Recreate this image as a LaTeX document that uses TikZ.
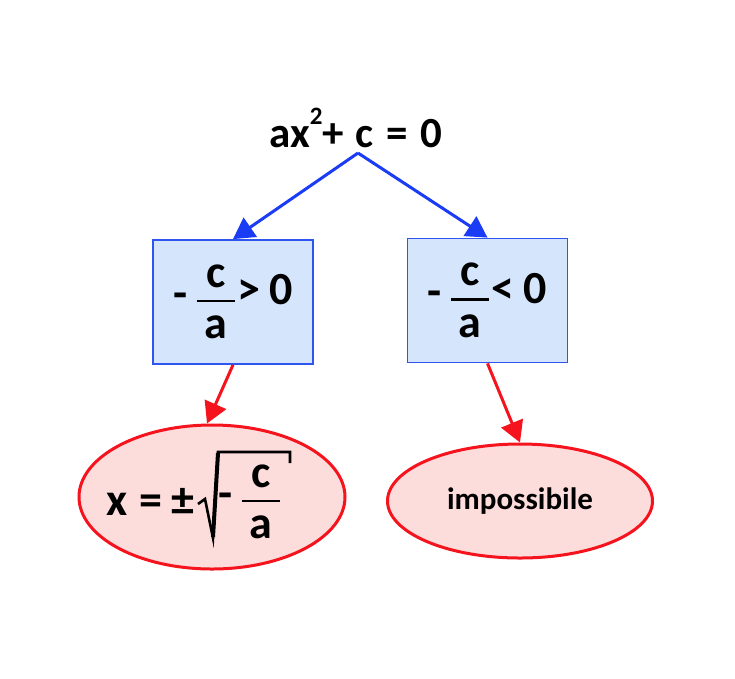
\documentclass[tikz,border=0pt]{standalone}
\usepackage{fontspec}
\setmainfont{Carlito}
\usetikzlibrary{arrows.meta,shapes.geometric}
\definecolor{arrblue}{HTML}{1A3CF5}
\definecolor{boxblue}{HTML}{2F55F0}
\definecolor{boxfill}{HTML}{D5E5FC}
\definecolor{redline}{HTML}{F5141E}
\definecolor{redfill}{HTML}{FDDCDC}
\newcommand\myfr[2]{\ensuremath{\vcenter{\offinterlineskip\halign{\hfil\hskip0.17em##\hskip0.17em\hfil\cr #1\cr\noalign{\vskip0.26em\hrule height2.6pt\vskip0.3em}#2\cr}}}}
\tikzset{
  bluearr/.style={draw=arrblue, line width=3pt, -{Triangle[length=21pt,width=23pt]}},
  redarr/.style={draw=redline, line width=3pt, -{Triangle[length=21pt,width=23pt]}},
  condbox/.style={draw=boxblue, line width=1.8pt, fill=boxfill, minimum width=160pt, minimum height=124pt, inner sep=0pt, font=\bfseries\fontsize{46}{50}\selectfont},
  result/.style={ellipse, draw=redline, line width=3pt, fill=redfill, inner sep=0pt},
  bigtxt/.style={inner sep=0pt, font=\bfseries\fontsize{46}{50}\selectfont},
  radical/.style={draw=black, line width=2.6pt, line join=miter},
}
\begin{document}
\begin{tikzpicture}[x=1pt,y=-1pt]
\useasboundingbox (0,0) rectangle (735,678);
\node[anchor=base, inner sep=0pt, font=\bfseries\fontsize{43}{46}\selectfont] (t) at (356,147) {ax\raisebox{0.52em}{\fontsize{25}{25}\selectfont 2}+\hspace{0.27em}c\hspace{0.3em}=\hspace{0.3em}0};
\coordinate (apex) at (358,153);
\node[condbox] (b1) at (233,302) {\raisebox{-4pt}{-\hspace{0.2em}\myfr{c}{a}}\hspace{0.05em}>\hspace{0.2em}0};
\node[condbox] (b2) at (487.5,300.5) {\raisebox{-3pt}{-\hspace{0.2em}\myfr{c}{a}}\hspace{0.05em}<\hspace{0.2em}0};
\node[result, minimum width=266pt, minimum height=144pt] (e1) at (212,497) {};
\node[bigtxt, anchor=base west] (ex) at (106,515) {x\hspace{0.26em}=\hspace{0.2em}±};
\node[bigtxt] (ef) at (249.5,502) {-\hspace{0.2em}\myfr{c}{a}};
\draw[radical] (198,504) -- (205,499) -- (213,538) -- (218,452) -- (290,452) -- (290,463);
\draw[radical, line width=4pt] (213,537) -- (218,453);
\node[result, minimum width=265pt, minimum height=114pt, font=\bfseries\fontsize{31}{34}\selectfont] (e2) at (520,501) {impossibile};
\draw[bluearr] (apex) -- (b1.north);
\draw[bluearr] (apex) -- (b2.north);
\draw[redarr] (b1.south) -- ([xshift=-5pt]e1.north);
\draw[redarr] (b2.south) -- (e2.north);
\end{tikzpicture}
\end{document}
